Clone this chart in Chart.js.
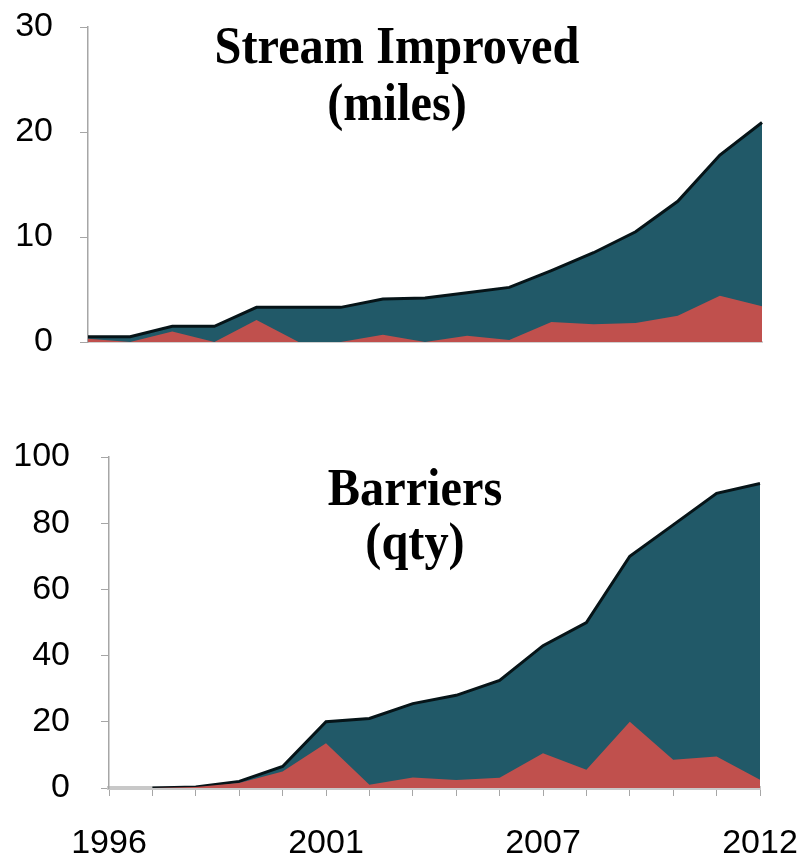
<!DOCTYPE html>
<html>
<head>
<meta charset="utf-8">
<script src="https://cdn.jsdelivr.net/npm/chart.js@4/dist/chart.umd.min.js"></script>
<style>
  html, body { margin: 0; padding: 0; background: #fff; }
  #wrap { position: relative; width: 802px; height: 863px; }
  .box { position: absolute; left: 0; width: 802px; }
  #box-stream { top: 0; height: 380px; }
  #box-barriers { top: 400px; height: 463px; }
</style>
</head>
<body>
<div id="wrap">
  <div class="box" id="box-stream"><canvas id="stream-chart"></canvas></div>
  <div class="box" id="box-barriers"><canvas id="barrier-chart"></canvas></div>
</div>
<script>
// ---- data ----
// stream improved (miles), one point per year 1996..2012
const streamYears = ['1996','1997','1998','1999','2000','2001','2002','2003','2004',
                     '2005','2006','2007','2008','2009','2010','2011','2012'];
const streamAnnual = [0.3, 0, 1.0, 0, 2.1, 0, 0, 0.7, 0, 0.6, 0.2, 1.9, 1.7, 1.8, 2.5, 4.4, 3.4];
const streamTotal  = [0.5, 0.5, 1.5, 1.5, 3.3, 3.3, 3.3, 4.1, 4.2, 4.7, 5.2, 6.8, 8.5, 10.5, 13.4, 17.8, 20.9];

// barriers (qty), 16 categories, only four of them labelled
const barrierLabels = ['1996','','','','','2001','','','','','2007','','','','','2012'];
const barrierAnnual = [0, 0, 0.3, 1.5, 5, 13.5, 1, 3.2, 2.4, 3.1, 10.5, 5.5, 20, 8.5, 9.5, 2.5];
const barrierTotal  = [0, 0, 0.3, 2, 6.5, 20, 21, 25.5, 28, 32.5, 43, 50, 70, 79.5, 89, 92];

const RED = '#C0504D';
const TEAL = '#215968';
const OUTLINE = '#061418';
const AXIS = '#a6a6a6';
const TICK_FONT = { family: '"Liberation Sans", Arial, sans-serif', size: 34 };

// title drawn inside the plot, like the original
const innerTitle = {
  id: 'innerTitle',
  afterDraw(chart, args, opts) {
    const { ctx } = chart;
    ctx.save();
    ctx.fillStyle = '#000';
    ctx.font = `bold ${opts.size}px "Liberation Serif", "Times New Roman", serif`;
    ctx.textAlign = 'center';
    ctx.textBaseline = 'alphabetic';
    opts.lines.forEach((line, i) => {
      ctx.save();
      ctx.translate(opts.x, opts.y + i * opts.lineHeight);
      ctx.scale(opts.squeeze, 1);
      ctx.fillText(line, 0, 0);
      ctx.restore();
    });
    ctx.restore();
  }
};

// let layout.padding alone decide where the plot area sits
function noOverflow(s) {
  s.paddingTop = 0;
  s.paddingBottom = 0;
  s.paddingLeft = 0;
  s.paddingRight = 0;
}

function areaSets(annual, total) {
  return [{
    label: 'Annual',
    data: annual,
    backgroundColor: RED,
    borderWidth: 0,
    fill: 'origin',
    pointRadius: 0,
    tension: 0
  }, {
    label: 'Cumulative',
    data: total,
    backgroundColor: TEAL,
    borderColor: OUTLINE,
    borderWidth: 3,
    fill: 'origin',
    pointRadius: 0,
    tension: 0,
    segment: {
      // no outline while the series still sits on the axis
      borderColor: c => (c.p0.parsed.y === 0 && c.p1.parsed.y === 0) ? 'rgba(0,0,0,0)' : undefined
    }
  }];
}

new Chart(document.getElementById('stream-chart'), {
  type: 'line',
  data: { labels: streamYears, datasets: areaSets(streamAnnual, streamTotal) },
  plugins: [innerTitle],
  options: {
    responsive: true,
    maintainAspectRatio: false,
    animation: false,
    layout: { padding: { top: 27, right: 40, bottom: 38, left: 0 } },
    plugins: {
      legend: { display: false },
      tooltip: { enabled: false },
      innerTitle: { lines: ['Stream Improved', '(miles)'], x: 397, y: 63, lineHeight: 57, size: 52, squeeze: 0.93 }
    },
    scales: {
      x: {
        type: 'category',
        offset: false,
        ticks: { display: false },
        grid: { display: false, drawTicks: false },
        border: { color: '#d0d0d0', width: 2 },
        afterFit(s) { s.height = 0; noOverflow(s); }
      },
      y: {
        min: 0,
        max: 30,
        ticks: { stepSize: 10, color: '#000', font: TICK_FONT, padding: 27 },
        grid: { drawOnChartArea: false, tickLength: 8, color: AXIS },
        border: { color: AXIS, width: 1.5 },
        afterFit(s) { s.width = 88; noOverflow(s); }
      }
    }
  }
});

new Chart(document.getElementById('barrier-chart'), {
  type: 'line',
  data: { labels: barrierLabels, datasets: areaSets(barrierAnnual, barrierTotal) },
  plugins: [innerTitle],
  options: {
    responsive: true,
    maintainAspectRatio: false,
    animation: false,
    layout: { padding: { top: 57, right: 42, bottom: 0, left: 0 } },
    plugins: {
      legend: { display: false },
      tooltip: { enabled: false },
      innerTitle: { lines: ['Barriers', '(qty)'], x: 415, y: 105, lineHeight: 54, size: 52, squeeze: 0.93 }
    },
    scales: {
      x: {
        type: 'category',
        offset: false,
        ticks: { color: '#000', font: TICK_FONT, autoSkip: false, maxRotation: 0, padding: 27 },
        grid: { drawOnChartArea: false, tickLength: 8, color: AXIS },
        border: { color: '#c8c8c8', width: 4 },
        afterFit(s) { s.height = 75; noOverflow(s); }
      },
      y: {
        min: 0,
        max: 100,
        ticks: { stepSize: 20, color: '#000', font: TICK_FONT, padding: 31 },
        grid: { drawOnChartArea: false, tickLength: 8, color: AXIS },
        border: { color: AXIS, width: 1.5 },
        afterFit(s) { s.width = 109; noOverflow(s); }
      }
    }
  }
});
</script>
</body>
</html>
